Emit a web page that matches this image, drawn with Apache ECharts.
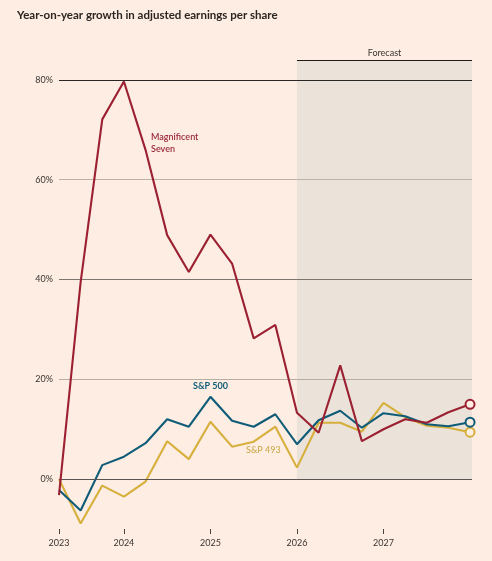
<!DOCTYPE html>
<html>
<head>
<meta charset="utf-8">
<script src="https://cdn.jsdelivr.net/npm/echarts@6/dist/echarts.min.js"></script>
<style>
html,body{margin:0;padding:0;background:#fdede2;}
#chart{width:492px;height:561px;}
</style>
</head>
<body>
<div id="chart"></div>
<script>
// Quarter index (0 = first quarter shown, labelled 2023)
const quarters = [0,1,2,3,4,5,6,7,8,9,10,11,12,13,14,15,16,17,18,19];
const yearTickQuarters = [0,3,7,11,15];
const yearTickLabels = ['2023','2024','2025','2026','2027'];
const forecastStartQuarter = 11;
const yTickValues = [0,20,40,60,80];

const magnificentSeven = [-3.2,39.5,72.1,79.7,66,48.9,41.5,49,43.2,28.2,30.9,13.3,9.3,22.8,7.6,10,12,11.3,13.4,15];
const sp500 = [-2.2,-6.3,2.8,4.5,7.2,12,10.5,16.5,11.7,10.5,13,7,11.8,13.7,10.3,13.2,12.6,11,10.6,11.4];
const sp493 = [0,-8.9,-1.3,-3.5,-0.5,7.6,4,11.5,6.5,7.5,10.5,2.3,11.3,11.3,9.5,15.3,12.4,10.7,10.3,9.4];

const BG = '#fdede2';
const RED = '#9b2032';
const TEAL = '#0f5c78';
const YELLOW = '#d6af3c';
const FONT = 'Lato, "Noto Sans", sans-serif';

const X_MAX = 19.09;
const Y_MIN = -10, Y_MAX = 84;

function pairs(vals){ return quarters.map((q,i)=>[q, vals[i]]); }

function lineSeries(name, vals, color, z){
  const last = vals.length - 1;
  return {
    name, type:'line', data: pairs(vals), z,
    showSymbol:true, showAllSymbol:true, symbol:'circle',
    symbolSize:(v,p)=> p.dataIndex===last ? 9 : 0,
    itemStyle:{color:BG, borderColor:color, borderWidth:2},
    lineStyle:{color, width:2.1},
    silent:true, animation:false
  };
}

const gridColors = {0:'#5a5450', 20:'#b9aea5', 40:'#7d7570', 60:'#bdb2a9', 80:'#2a2624'};

const chart = echarts.init(document.getElementById('chart'));
chart.setOption({
  backgroundColor: BG,
  animation:false,
  textStyle:{fontFamily:FONT},
  title:{
    text:'Year-on-year growth in adjusted earnings per share',
    left:17, top:9, padding:0,
    textStyle:{fontFamily:FONT, fontSize:11.5, fontWeight:'bold', color:'#2b2522'}
  },
  grid:{left:59, right:20, top:60, bottom:32},
  xAxis:{
    type:'value', min:0, max:X_MAX,
    splitLine:{show:false},
    axisLine:{show:false, onZero:false},
    axisTick:{show:true, customValues:yearTickQuarters, length:5, lineStyle:{color:'#4a4440', width:1}},
    axisLabel:{
      customValues:yearTickQuarters, margin:10,
      fontFamily:FONT, fontSize:9, color:'#3a3431',
      formatter:(v)=>{ const i = yearTickQuarters.indexOf(Math.round(v)); return i>=0 ? yearTickLabels[i] : ''; }
    }
  },
  yAxis:{
    type:'value', min:Y_MIN, max:Y_MAX,
    splitLine:{show:false},
    axisLine:{show:false},
    axisTick:{show:false},
    axisLabel:{
      customValues:yTickValues, margin:6,
      fontFamily:FONT, fontSize:9, color:'#3a3431',
      formatter:'{value}%'
    }
  },
  series:[
    {
      type:'line', data:[], z:1, silent:true,
      markArea:{
        silent:true,
        itemStyle:{color:'#ebe3da'},
        data:[[{xAxis:forecastStartQuarter, yAxis:0},{xAxis:X_MAX, yAxis:Y_MAX}]]
      }
    },
    {
      type:'line', data:[], z:2, silent:true,
      markLine:{
        silent:true, symbol:['none','none'], animation:false,
        label:{show:false},
        data: yTickValues.map(v=>({yAxis:v, lineStyle:{color:gridColors[v], width:1, type:'solid'}})).concat([
          [
            {coord:[forecastStartQuarter, Y_MAX], lineStyle:{color:'#1e1a18', width:1, type:'solid'},
             label:{show:true, position:'middle', formatter:'Forecast', fontFamily:FONT, fontSize:9, color:'#3a3431', distance:2}},
            {coord:[X_MAX, Y_MAX]}
          ]
        ])
      }
    },
    lineSeries('S&P 493', sp493, YELLOW, 3),
    lineSeries('S&P 500', sp500, TEAL, 4),
    lineSeries('Magnificent Seven', magnificentSeven, RED, 5)
  ],
  graphic:[
    {type:'text', left:151, top:131, silent:true,
     style:{text:'Magnificent\nSeven', fill:'#9b2a3c', font:'600 9px '+FONT, lineHeight:12}},
    {type:'text', left:193, top:382, silent:true,
     style:{text:'S&P 500', fill:TEAL, font:'bold 9px '+FONT}},
    {type:'text', left:246, top:446, silent:true,
     style:{text:'S&P 493', fill:'#c9a440', font:'9px '+FONT}}
  ]
});
</script>
</body>
</html>
